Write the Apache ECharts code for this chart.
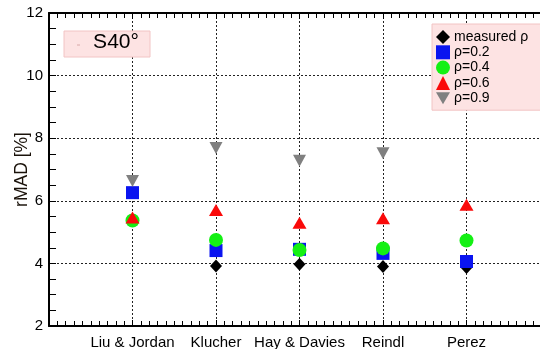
<!DOCTYPE html>
<html>
<head>
<meta charset="utf-8">
<script src="https://cdn.jsdelivr.net/npm/echarts@6/dist/echarts.min.js"></script>
<style>
  html, body { margin: 0; padding: 0; background: #fff; }
  #chart { width: 540px; height: 349px; }
</style>
</head>
<body>
<div id="chart"></div>
<script>
// Decomposition models on the x axis
const models = ['Liu & Jordan', 'Klucher', 'Hay & Davies', 'Reindl', 'Perez'];

// rMAD [%] per model for each albedo assumption
const measuredRho = [5.38, 3.92, 3.97, 3.90, 3.87];
const rho02 = [6.26, 4.41, 4.45, 4.32, 4.06];
const rho04 = [5.37, 4.75, 4.43, 4.48, 4.73];
const rho06 = [5.47, 5.71, 5.30, 5.44, 5.87];
const rho09 = [6.63, 7.69, 7.28, 7.52, null];

const yTicks = [2, 4, 6, 8, 10, 12];
const panelLabel = 'S40°';

const FONT = '"Liberation Sans", Arial, Helvetica, sans-serif';
const downTri = 'path://M0,0 L10,0 L5,8.6 Z';

const toPoints = arr => arr.map((v, i) => [i + 1, v]);

const seriesDefs = [
  { name: 'measured ρ', data: measuredRho, symbol: 'diamond', size: [12, 13], color: '#000000' },
  { name: 'ρ=0.2', data: rho02, symbol: 'rect', size: 13, color: '#0a14f0' },
  { name: 'ρ=0.4', data: rho04, symbol: 'circle', size: 14, color: '#14f014' },
  { name: 'ρ=0.6', data: rho06, symbol: 'triangle', size: [14, 12], color: '#fa0a0a' },
  { name: 'ρ=0.9', data: rho09, symbol: downTri, size: [13, 12], color: '#808080' }
];

const axisCommon = {
  type: 'value',
  min: 0,
  max: 6,
  interval: 1,
  axisLine: { onZero: false, lineStyle: { color: '#000', width: 2 } },
  axisTick: { inside: true, length: 6, lineStyle: { color: '#000', width: 1 } },
  minorTick: { show: true, splitNumber: 10, length: 5, lineStyle: { color: '#000', width: 1 } },
  minorSplitLine: { show: false }
};

const chart = echarts.init(document.getElementById('chart'), null, { renderer: 'canvas' });

chart.setOption({
  animation: false,
  backgroundColor: '#ffffff',
  grid: { left: 49, top: 13, width: 501, height: 313, containLabel: false, outerBoundsMode: 'none' },
  xAxis: [
    Object.assign({}, axisCommon, {
      position: 'bottom',
      axisLabel: {
        color: '#000', fontFamily: FONT, fontSize: 15, margin: 9,
        formatter: v => (v >= 1 && v <= models.length) ? models[v - 1] : ''
      },
      splitLine: { show: true, lineStyle: { color: '#222', type: [2, 2], width: 1 } }
    }),
    Object.assign({}, axisCommon, {
      position: 'top',
      axisLabel: { show: false },
      splitLine: { show: false }
    })
  ],
  yAxis: {
    type: 'value',
    min: yTicks[0],
    max: yTicks[yTicks.length - 1],
    interval: 2,
    name: 'rMAD [%]',
    nameLocation: 'middle',
    nameGap: 18,
    nameMoveOverlap: false,
    nameTextStyle: { color: '#1a120a', fontFamily: FONT, fontSize: 17.5 },
    axisLine: { onZero: false, lineStyle: { color: '#000', width: 2 } },
    axisTick: { inside: true, length: 7, lineStyle: { color: '#000', width: 1 } },
    minorTick: { show: true, splitNumber: 4, length: 7, lineStyle: { color: '#000', width: 1 } },
    axisLabel: { color: '#000', fontFamily: FONT, fontSize: 15, margin: 6 },
    splitLine: { show: true, lineStyle: { color: '#222', type: [2, 2], width: 1 } }
  },
  legend: {
    orient: 'vertical',
    left: 432,
    top: 24,
    padding: [6, 24, 5, 4],
    itemWidth: 14,
    itemHeight: 14,
    itemGap: 1.3,
    backgroundColor: '#fde3e3',
    borderColor: '#f2c4c4',
    borderWidth: 1,
    textStyle: { color: '#000', fontFamily: FONT, fontSize: 14, padding: [0, 0, 0, -1] },
    data: seriesDefs.map(s => ({ name: s.name, icon: s.symbol }))
  },
  graphic: [
    {
      type: 'rect',
      shape: { x: 64, y: 31, width: 86, height: 26 },
      style: { fill: '#fde3e3', stroke: '#f2c4c4', lineWidth: 1 },
      z: 10
    },
    {
      type: 'line',
      shape: { x1: 77, y1: 45, x2: 80, y2: 45 },
      style: { stroke: '#d9a8a8', lineWidth: 1 },
      z: 11
    },
    {
      type: 'text',
      x: 116,
      y: 42,
      style: {
        text: panelLabel, fill: '#000', fontFamily: FONT, fontSize: 21,
        align: 'center', verticalAlign: 'middle'
      },
      z: 11
    }
  ],
  series: seriesDefs.map((s, k) => ({
    name: s.name,
    type: 'scatter',
    xAxisIndex: 0,
    data: toPoints(s.data),
    symbol: s.symbol,
    symbolSize: s.size,
    itemStyle: { color: s.color, opacity: 1 },
    z: 2 + k
  }))
});
</script>
</body>
</html>
